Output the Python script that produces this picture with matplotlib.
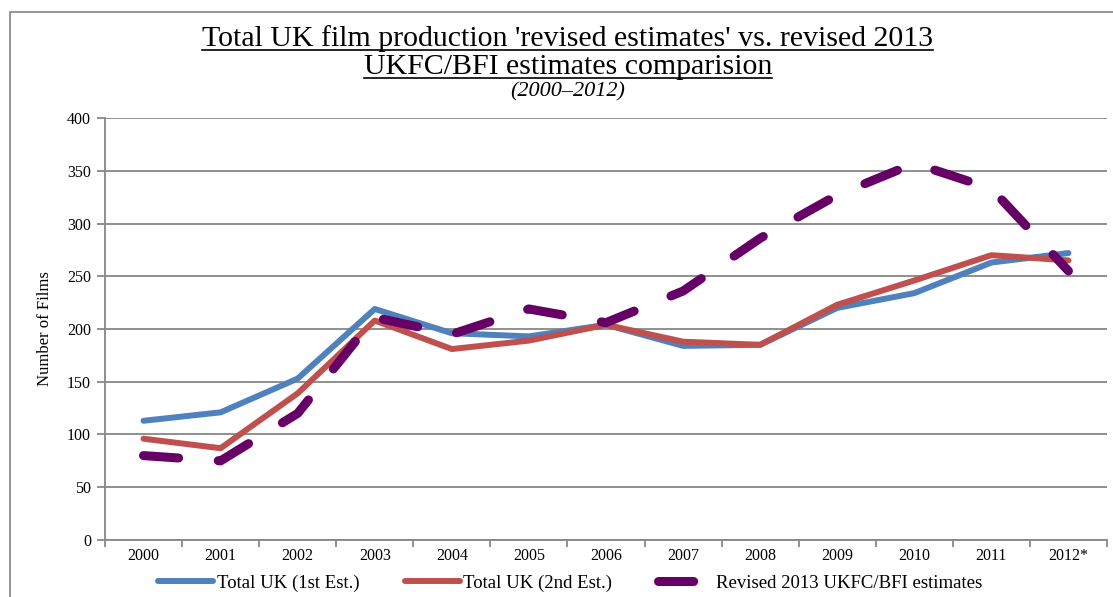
import matplotlib
matplotlib.use("Agg")
import matplotlib.pyplot as plt
from matplotlib.lines import Line2D
from matplotlib.patches import Rectangle

years = ["2000", "2001", "2002", "2003", "2004", "2005", "2006",
         "2007", "2008", "2009", "2010", "2011", "2012*"]
first_est = [113, 121, 153, 219, 196, 193, 204, 184, 185, 220, 234, 263, 272]
second_est = [96, 87, 139, 208, 181, 189, 204, 188, 185, 223, 246, 270, 265]
revised_2013 = [80, 75, 120, 211, 195, 219, 206, 236, 286, 327, 357, 333, 255]

series_labels = ["Total UK (1st Est.)", "Total UK (2nd Est.)",
                 "Revised 2013 UKFC/BFI estimates"]

BLUE = "#4F81BD"
RED = "#C0504D"
PURPLE = "#660066"
GRID = "#878787"

plt.rcParams["font.family"] = ["Liberation Serif", "DejaVu Serif"]

fig = plt.figure(figsize=(11.13, 5.97), dpi=100)
ax = fig.add_axes([0.0943, 0.0955, 0.9003, 0.7068])

x = list(range(len(years)))
ax.plot(x, first_est, color=BLUE, lw=4.3, solid_capstyle="round",
        solid_joinstyle="round", label=series_labels[0], zorder=3)
ax.plot(x, second_est, color=RED, lw=4.3, solid_capstyle="round",
        solid_joinstyle="round", label=series_labels[1], zorder=4)
ax.plot(x, revised_2013, color=PURPLE, lw=6.5, dashes=(3.9, 4.4),
        dash_capstyle="round", dash_joinstyle="round",
        label=series_labels[2], zorder=5)

ax.set_xlim(-0.5, len(years) - 0.5)
ax.set_ylim(0, 400)
ax.set_yticks(range(0, 401, 50))
ax.grid(axis="y", color=GRID, lw=1.3)
ax.set_axisbelow(True)

# category ticks sit between the years, labels at the centres
ax.set_xticks([i - 0.5 for i in range(len(years) + 1)])
ax.set_xticklabels([])
ax.set_xticks(x, minor=True)
ax.set_xticklabels(years, minor=True, fontsize=11.5)
ax.tick_params(axis="x", which="minor", length=0, pad=6)
ax.tick_params(axis="x", which="major", length=5, color=GRID, width=1.3)
ax.tick_params(axis="y", length=6, color=GRID, width=1.3, labelsize=11.5, pad=4)

for side in ("top", "right"):
    ax.spines[side].set_visible(False)
for side in ("left", "bottom"):
    ax.spines[side].set_color(GRID)
    ax.spines[side].set_linewidth(1.3)

ax.set_ylabel("Number of Films", fontsize=12, labelpad=10)

fig.legend(loc="center", bbox_to_anchor=(0.5126, 0.0235), ncol=3, frameon=False,
           fontsize=13.5, handlelength=2.93, handletextpad=0.17,
           columnspacing=2.45)

# chart-area border
fig.add_artist(Rectangle((10 / 1113, -0.2), 1.2, 1.2 - 12 / 597,
                         transform=fig.transFigure, fill=False,
                         edgecolor="#8c8c8c", lw=1.3))

title_lines = [
    ("Total UK film production 'revised estimates' vs. revised 2013", 46.0, 3.5),
    ("UKFC/BFI estimates comparision", 74.0, 4.0),
]
title_texts = []
for text, base_px, gap_px in title_lines:
    y = 1 - base_px / 597
    t = fig.text(0.5103, y, text, ha="center", va="baseline", fontsize=21.5)
    title_texts.append((t, y, gap_px))
fig.text(0.5103, 1 - 96.5 / 597, "(2000\u20132012)", ha="center", va="baseline",
         fontsize=16, style="italic")

# underline the two title lines
fig.canvas.draw()
renderer = fig.canvas.get_renderer()
W, H = fig.bbox.width, fig.bbox.height
for t, y, gap_px in title_texts:
    bb = t.get_window_extent(renderer)
    uy = y - gap_px / H
    fig.add_artist(Line2D([bb.x0 / W, bb.x1 / W], [uy, uy],
                          transform=fig.transFigure, color="black", lw=1.2))

fig.savefig("out.png", dpi=100)
